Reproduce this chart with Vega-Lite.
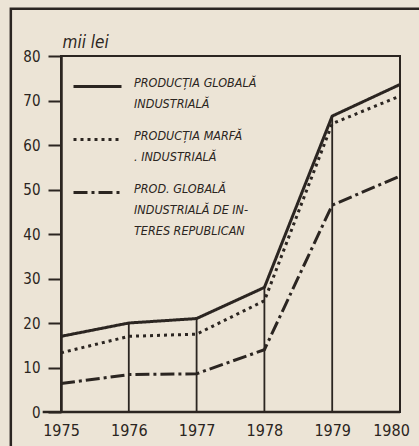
{
  "$schema": "https://vega.github.io/schema/vega-lite/v6.json",
  "width": 339,
  "height": 356,
  "autosize": "none",
  "padding": {"left": 61, "top": 56, "right": 19, "bottom": 34},
  "background": "#ece4d6",
  "config": {
    "view": {"stroke": "#2b2521", "strokeWidth": 2},
    "font": "DejaVu Sans Condensed",
    "axis": {"labelFont": "DejaVu Sans Condensed", "labelColor": "#2b2521", "grid": false},
    "style": {"guide-label": {"lineHeight": 21}}
  },
  "datasets": {
    "series": [
      {"year": 1975, "series": "PRODUCȚIA GLOBALĂ INDUSTRIALĂ", "value": 17},
      {"year": 1976, "series": "PRODUCȚIA GLOBALĂ INDUSTRIALĂ", "value": 20},
      {"year": 1977, "series": "PRODUCȚIA GLOBALĂ INDUSTRIALĂ", "value": 21},
      {"year": 1978, "series": "PRODUCȚIA GLOBALĂ INDUSTRIALĂ", "value": 28},
      {"year": 1979, "series": "PRODUCȚIA GLOBALĂ INDUSTRIALĂ", "value": 66.5},
      {"year": 1980, "series": "PRODUCȚIA GLOBALĂ INDUSTRIALĂ", "value": 73.6},
      {"year": 1975, "series": "PRODUCȚIA MARFĂ INDUSTRIALĂ", "value": 13.3},
      {"year": 1976, "series": "PRODUCȚIA MARFĂ INDUSTRIALĂ", "value": 17},
      {"year": 1977, "series": "PRODUCȚIA MARFĂ INDUSTRIALĂ", "value": 17.5},
      {"year": 1978, "series": "PRODUCȚIA MARFĂ INDUSTRIALĂ", "value": 25},
      {"year": 1979, "series": "PRODUCȚIA MARFĂ INDUSTRIALĂ", "value": 64.8},
      {"year": 1980, "series": "PRODUCȚIA MARFĂ INDUSTRIALĂ", "value": 71},
      {"year": 1975, "series": "PROD. GLOBALĂ INDUSTRIALĂ DE INTERES REPUBLICAN", "value": 6.4},
      {"year": 1976, "series": "PROD. GLOBALĂ INDUSTRIALĂ DE INTERES REPUBLICAN", "value": 8.4},
      {"year": 1977, "series": "PROD. GLOBALĂ INDUSTRIALĂ DE INTERES REPUBLICAN", "value": 8.6},
      {"year": 1978, "series": "PROD. GLOBALĂ INDUSTRIALĂ DE INTERES REPUBLICAN", "value": 14},
      {"year": 1979, "series": "PROD. GLOBALĂ INDUSTRIALĂ DE INTERES REPUBLICAN", "value": 46.5},
      {"year": 1980, "series": "PROD. GLOBALĂ INDUSTRIALĂ DE INTERES REPUBLICAN", "value": 53}
    ]
  },
  "layer": [
    {
      "data": {"name": "series"},
      "mark": {"type": "line", "stroke": "#2b2521", "strokeWidth": 3},
      "encoding": {
        "x": {
          "field": "year", "type": "quantitative", "title": null,
          "scale": {"domain": [1975, 1980], "nice": false, "zero": false},
          "axis": {"values": [1975, 1976, 1977, 1978, 1979, 1980], "format": "d", "domain": false, "ticks": false, "labelFontSize": 16, "labelPadding": 10, "labelFlush": false, "labelOffset": {"condition": {"test": "datum.value == 1980", "value": -9}, "value": 0}}
        },
        "y": {
          "field": "value", "type": "quantitative", "title": "mii lei",
          "scale": {"domain": [0, 80], "nice": false},
          "axis": {"values": [0, 10, 20, 30, 40, 50, 60, 70, 80], "titleAngle": 0, "titleAlign": "left", "titleBaseline": "alphabetic", "titleX": 1, "titleY": -9, "titleFont": "DejaVu Sans Condensed", "titleFontStyle": "italic", "titleFontWeight": "normal", "titleFontSize": 17, "titleColor": "#2b2521", "domain": true, "domainColor": "#2b2521", "domainWidth": 2.5, "tickColor": "#2b2521", "tickWidth": 2, "tickSize": 13, "labelFontSize": 15, "labelPadding": 8}
        },
        "strokeDash": {
          "field": "series", "type": "nominal",
          "scale": {
            "domain": ["PRODUCȚIA GLOBALĂ INDUSTRIALĂ", "PRODUCȚIA MARFĂ INDUSTRIALĂ", "PROD. GLOBALĂ INDUSTRIALĂ DE INTERES REPUBLICAN"],
            "range": [[1, 0], [3, 4], [14, 4, 3, 4]]
          },
          "legend": {
            "title": null, "orient": "none", "legendX": 11, "legendY": 5,
            "symbolType": "stroke", "symbolSize": 2304, "symbolStrokeWidth": 3, "symbolStrokeColor": "#2b2521",
            "labelFont": "DejaVu Sans Condensed", "labelFontStyle": "italic", "labelFontSize": 12.5, "labelColor": "#2b2521",
            "labelBaseline": "alphabetic", "labelOffset": 11, "labelLimit": 400, "rowPadding": 4,
            "labelExpr": "datum.label == 'PRODUCȚIA GLOBALĂ INDUSTRIALĂ' ? ['PRODUCȚIA GLOBALĂ', 'INDUSTRIALĂ'] : datum.label == 'PRODUCȚIA MARFĂ INDUSTRIALĂ' ? ['PRODUCȚIA MARFĂ', '. INDUSTRIALĂ'] : ['PROD. GLOBALĂ', 'INDUSTRIALĂ DE IN-', 'TERES REPUBLICAN']"
          }
        }
      }
    },
    {
      "data": {"values": [{"x0": 1974.26, "x1": 1981.5, "y0": 90.6, "y1": -12}]},
      "mark": {"type": "rect", "filled": false, "stroke": "#2b2521", "strokeWidth": 2.5, "clip": false},
      "encoding": {
        "x": {"field": "x0", "type": "quantitative", "title": null, "scale": {"domain": [1975, 1980], "nice": false, "zero": false}},
        "x2": {"field": "x1"},
        "y": {"field": "y0", "type": "quantitative", "title": "mii lei", "scale": {"domain": [0, 80], "nice": false}},
        "y2": {"field": "y1"}
      }
    },
    {
      "data": {"values": [{"a": 1974.73, "b": 1980, "v": 0}]},
      "mark": {"type": "rule", "stroke": "#2b2521", "strokeWidth": 2.5, "clip": false},
      "encoding": {
        "x": {"field": "a", "type": "quantitative", "title": null, "scale": {"domain": [1975, 1980], "nice": false, "zero": false}},
        "x2": {"field": "b"},
        "y": {"field": "v", "type": "quantitative", "title": "mii lei", "scale": {"domain": [0, 80], "nice": false}}
      }
    },
    {
      "data": {"name": "series"},
      "transform": [{"filter": "datum.series == 'PRODUCȚIA GLOBALĂ INDUSTRIALĂ'"}],
      "mark": {"type": "rule", "stroke": "#2b2521", "strokeWidth": 1.8},
      "encoding": {
        "x": {"field": "year", "type": "quantitative", "title": null, "scale": {"domain": [1975, 1980], "nice": false, "zero": false}},
        "y": {"field": "value", "type": "quantitative", "title": "mii lei", "scale": {"domain": [0, 80], "nice": false}},
        "y2": {"datum": 0}
      }
    }
  ]
}
